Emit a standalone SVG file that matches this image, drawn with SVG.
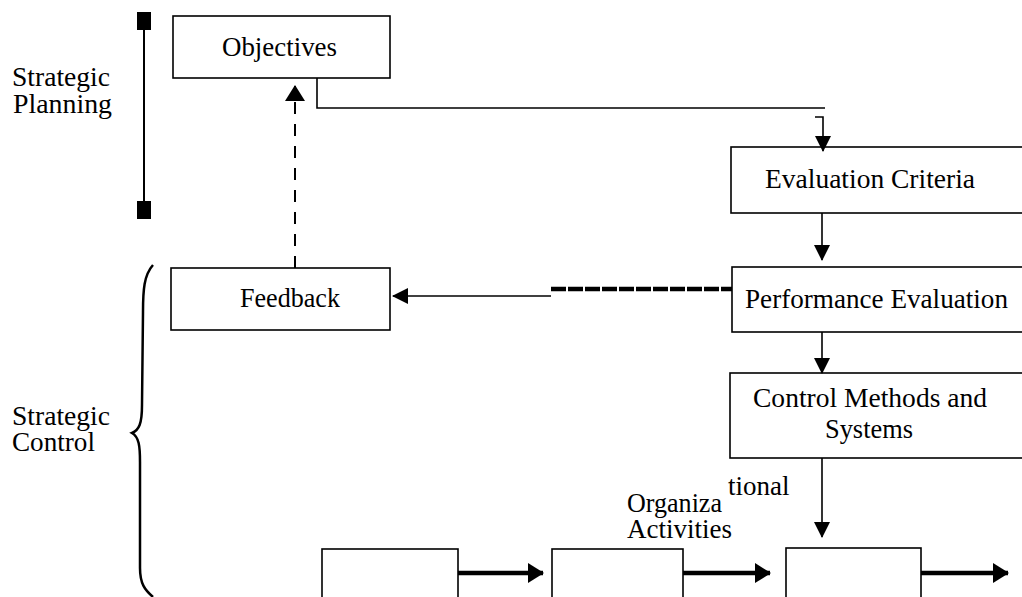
<svg xmlns="http://www.w3.org/2000/svg" width="1022" height="597" viewBox="0 0 1022 597">
<style>
.box{fill:#fff;stroke:#000;stroke-width:1.6}
.t{font-family:"Liberation Serif","Times New Roman",serif;font-size:27px;fill:#000}
.ln{fill:none;stroke:#000;stroke-width:1.6}
.thick{fill:none;stroke:#000;stroke-width:4.5}
</style>
<defs>
<marker id="ah" markerUnits="userSpaceOnUse" markerWidth="16" markerHeight="16" viewBox="0 0 16 16" refX="15" refY="8" orient="auto">
<path d="M0,0 L16,8 L0,16 Z" fill="#000"/>
</marker>
<marker id="ahb" markerUnits="userSpaceOnUse" markerWidth="16" markerHeight="20" viewBox="0 0 16 20" refX="15" refY="10" orient="auto">
<path d="M0,0 L16,10 L0,20 Z" fill="#000"/>
</marker>
</defs>

<g id="labels">
<text class="t" x="12" y="86" textLength="98" lengthAdjust="spacingAndGlyphs">Strategic</text>
<text class="t" x="13" y="113" textLength="99" lengthAdjust="spacingAndGlyphs">Planning</text>
<text class="t" x="12" y="425" textLength="98" lengthAdjust="spacingAndGlyphs">Strategic</text>
<text class="t" x="12" y="451" textLength="83" lengthAdjust="spacingAndGlyphs">Control</text>
<text class="t" x="627" y="512" textLength="95" lengthAdjust="spacingAndGlyphs">Organiza</text>
<text class="t" x="728" y="495" font-size="24">tional</text>
<text class="t" x="627" y="538">Activities</text>
</g>

<g id="planning-bracket">
<line x1="144" y1="20" x2="144" y2="210" stroke="#000" stroke-width="2"/>
<rect x="137" y="12" width="14" height="18" fill="#000"/>
<rect x="137" y="201" width="14" height="18" fill="#000"/>
</g>

<g id="control-brace">
<path d="M153,265 C144,275 143,290 143,312 L142,405 C142,424 139,430 132,433 C139,437 140,446 140,462 L140,568 C140,584 145,590 153,597" fill="none" stroke="#000" stroke-width="2.5"/>
</g>

<g id="node-objectives">
<rect class="box" x="173" y="16" width="217" height="62" stroke-width="2"/>
<text class="t" x="222" y="56" textLength="115" lengthAdjust="spacingAndGlyphs">Objectives</text>
</g>

<g id="node-evaluation">
<rect class="box" x="731" y="147" width="300" height="66"/>
<text class="t" x="765" y="188" textLength="210" lengthAdjust="spacingAndGlyphs">Evaluation  Criteria</text>
</g>

<g id="node-feedback">
<rect class="box" x="171" y="268" width="219" height="62"/>
<text class="t" x="240" y="307" textLength="100" lengthAdjust="spacingAndGlyphs">Feedback</text>
</g>

<g id="node-performance">
<rect class="box" x="732" y="267" width="300" height="65"/>
<text class="t" x="745" y="308" textLength="263" lengthAdjust="spacingAndGlyphs">Performance Evaluation</text>
</g>

<g id="node-control">
<rect class="box" x="730" y="373" width="300" height="85"/>
<text class="t" x="753" y="407" textLength="234" lengthAdjust="spacingAndGlyphs">Control Methods and</text>
<text class="t" x="825" y="438" textLength="88" lengthAdjust="spacingAndGlyphs">Systems</text>
</g>

<g id="node-activity1"><rect class="box" x="322" y="549" width="136" height="50"/></g>
<g id="node-activity2"><rect class="box" x="552" y="549" width="131" height="50"/></g>
<g id="node-activity3"><rect class="box" x="786" y="548" width="135" height="50"/></g>

<g id="connectors">
<path class="ln" d="M317,78 V108 H825"/>
<path class="ln" d="M815,117 H823 V151" marker-end="url(#ah)"/>
<line class="ln" x1="822" y1="213" x2="822" y2="260" marker-end="url(#ah)"/>
<line class="ln" x1="822" y1="332" x2="822" y2="373" marker-end="url(#ah)"/>
<line class="ln" x1="822" y1="458" x2="822" y2="537" marker-end="url(#ah)"/>
<line x1="295" y1="268" x2="295" y2="86" stroke="#000" stroke-width="2" stroke-dasharray="12 10" marker-end="url(#ahb)"/>
<line x1="551" y1="289" x2="732" y2="289" stroke="#000" stroke-width="4.5" stroke-dasharray="15 2"/>
<line class="ln" x1="551" y1="296" x2="393" y2="296" stroke-width="2" marker-end="url(#ah)"/>
<line class="thick" x1="458" y1="573" x2="543" y2="573" marker-end="url(#ahb)"/>
<line class="thick" x1="683" y1="573" x2="770" y2="573" marker-end="url(#ahb)"/>
<line class="thick" x1="921" y1="573" x2="1008" y2="573" marker-end="url(#ahb)"/>
</g>
</svg>
